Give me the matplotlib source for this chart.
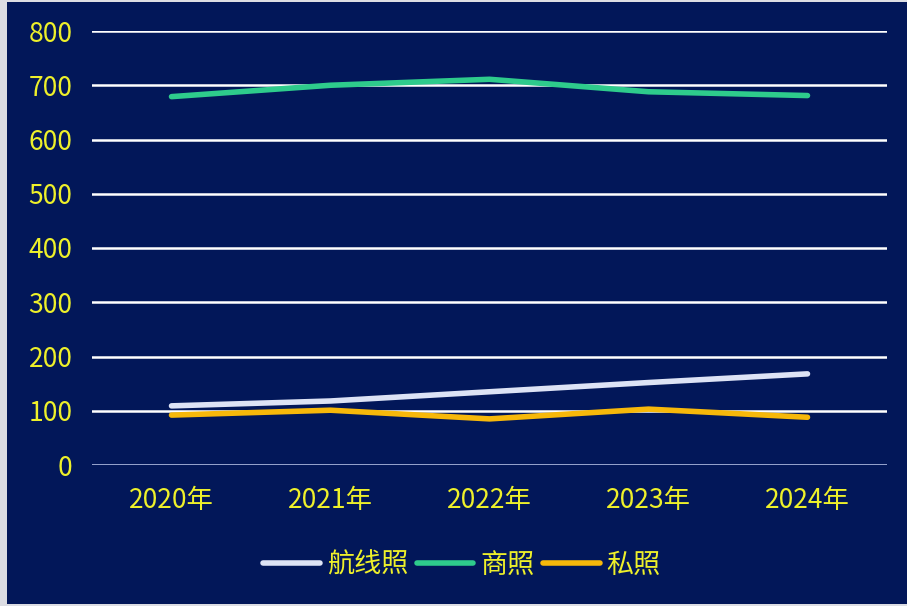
import matplotlib.pyplot as plt
from matplotlib.patches import Rectangle

plt.rcParams['font.family'] = ['Noto Sans CJK SC', 'DejaVu Sans']

years = ["2020年", "2021年", "2022年", "2023年", "2024年"]
series_names = ["航线照", "商照", "私照"]
airline = [109, 118, 135, 152, 168]
commercial = [679, 700, 711, 688, 681]
private = [92, 101, 85, 103, 88]
y_ticks = [0, 100, 200, 300, 400, 500, 600, 700, 800]

BG = "#021759"
TXT = "#eef02a"
EDGE = "#dcdde3"
colors = ["#dde3f5", "#2ecb8c", "#f7b80a"]

W, H = 907, 606
fig = plt.figure(figsize=(W / 100, H / 100), dpi=100, facecolor=BG)
# light frame on the left / top / bottom edges
for (x0, y0, w, h) in [(0, 0, 7, H), (0, H - 2, W, 2), (0, 0, W, 2)]:
    fig.patches.append(Rectangle((x0 / W, y0 / H), w / W, h / H,
                                 transform=fig.transFigure, facecolor=EDGE,
                                 edgecolor="none"))

ax = fig.add_axes([92 / W, 1 - 465 / H, (887 - 92) / W, (465 - 31) / H])
ax.set_facecolor(BG)

x = list(range(len(years)))
for vals, name, c in zip([airline, commercial, private], series_names, colors):
    ax.plot(x, vals, color=c, lw=4, solid_capstyle="round",
            solid_joinstyle="round", label=name, zorder=3)

for t in y_ticks:
    ax.axhline(t, color="#c4cef2" if t == 0 else "white", lw=1.8, zorder=1)

ax.set_xlim(-0.5, len(years) - 0.5)
ax.set_ylim(0, 800)
ax.set_yticks(y_ticks)
ax.set_xticks(x)
ax.set_xticklabels(years)
for s in ax.spines.values():
    s.set_visible(False)
ax.tick_params(axis="both", length=0, colors=TXT, labelsize=19)
ax.tick_params(axis="y", pad=14)
ax.tick_params(axis="x", pad=16)

leg = fig.legend(loc="center", bbox_to_anchor=(462 / W, 1 - 565 / H), ncol=3,
                 frameon=False, fontsize=19.5, handlelength=2.1,
                 handletextpad=0.25, columnspacing=0.3)
for line in leg.get_lines():
    line.set_linewidth(4)
for txt in leg.get_texts():
    txt.set_color(TXT)

fig.savefig("out.png", dpi=100, facecolor=fig.get_facecolor())
